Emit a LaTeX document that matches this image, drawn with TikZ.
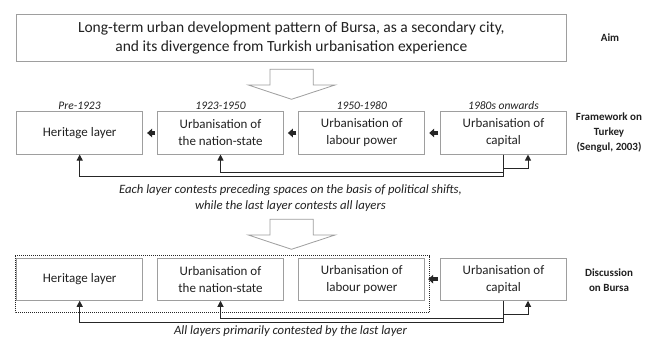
\documentclass[tikz,border=0pt]{standalone}
\usepackage{fontspec}
\setmainfont{Carlito}
\usetikzlibrary{arrows.meta}

\definecolor{boxColor}{rgb}{0.62,0.62,0.62}
\definecolor{textColor}{rgb}{0.13,0.13,0.13}
\definecolor{lineColor}{rgb}{0.15,0.15,0.15}

\begin{document}
\begin{tikzpicture}[x=1pt,y=-1pt,
  layerbox/.style={draw=boxColor,line width=0.8pt,minimum width=126pt,minimum height=42.3pt,
    inner sep=0pt,align=center,text=textColor,font=\fontsize{13}{17}\selectfont},
  aimbox/.style={layerbox,minimum width=549.3pt,minimum height=47pt,font=\fontsize{15.5}{19}\selectfont},
  period/.style={text=textColor,inner sep=0pt,font=\fontsize{11.5}{13}\selectfont\itshape},
  sidelabel/.style={text=textColor,inner sep=0pt,align=center,font=\fontsize{11}{15}\selectfont\bfseries},
  caption/.style={text=textColor,inner sep=0pt,align=center,font=\fontsize{12.7}{16}\selectfont\itshape},
  push/.style={draw=lineColor,line width=3.5pt,-{Triangle[width=8.5pt,length=5pt]},shorten <=2pt,shorten >=4pt},
  contest/.style={draw=lineColor,line width=1pt,-{Triangle[width=6pt,length=6pt]}},
  hollow/.style={draw=boxColor,line width=0.8pt,fill=white,line join=miter}]
\path[use as bounding box,fill=white] (0,0) rectangle (661,340);

% aim
\node[aimbox] (aim) at (291.3,37.5) {Long-term urban development pattern of Bursa, as a secondary city,\\and its divergence from Turkish urbanisation experience};
\node[sidelabel] (aimlab) at (610,37.5) {Aim};

\draw[hollow] (270,69.3) -- (313.3,69.3) -- (313.3,85) -- (335,85) -- (291.5,99.3) -- (248.3,85) -- (270,85) -- cycle;

% framework on Turkey
\node[layerbox] (c1) at (79.7,133) {Heritage layer};
\node[layerbox] (c2) at (220.5,133) {Urbanisation of\\the nation-state};
\node[layerbox] (c3) at (361.8,133) {Urbanisation of\\labour power};
\node[layerbox] (c4) at (503.5,133) {Urbanisation of\\capital};

\node[period] (p1) at (79.5,106) {Pre-1923};
\node[period] (p2) at (220.5,106) {1923-1950};
\node[period] (p3) at (361.8,106) {1950-1980};
\node[period] (p4) at (503.5,106) {1980s onwards};

\node[sidelabel] (framelab) at (609,133) {Framework on\\Turkey\\(Sengul, 2003)};

\draw[push] (c2.west) -- (c1.east);
\draw[push] (c3.west) -- (c2.east);
\draw[push] (c4.west) -- (c3.east);

\draw[contest] (c4.south) -- ++(0,14) -| ([xshift=24.5pt]c4.south);
\draw[contest] (c4.south) -- ++(0,18) -| (c2.south);
\draw[contest] (c4.south) -- ++(0,21.5) -| (c1.south);

\node[caption] (note1) at (290.5,198) {Each layer contests preceding spaces on the basis of political shifts,\\while the last layer contests all layers};

\draw[hollow] (270,219.3) -- (313.3,219.3) -- (313.3,235) -- (335,235) -- (291.5,249.3) -- (248.3,235) -- (270,235) -- cycle;

% discussion on Bursa
\node[layerbox] (d1) at (79.7,279.2) {Heritage layer};
\node[layerbox] (d2) at (220.5,279.2) {Urbanisation of\\the nation-state};
\node[layerbox] (d3) at (361.8,279.2) {Urbanisation of\\labour power};
\node[layerbox] (d4) at (503.5,279.2) {Urbanisation of\\capital};

\draw[lineColor,line width=0.9pt,dash pattern=on 1pt off 1pt] (15,255.7) rectangle (429.3,312.7);

\node[sidelabel] (discusslab) at (609,280) {Discussion\\on Bursa};

\draw[push,shorten >=3pt] (d4.west) -- (d3.east);

\draw[contest] (d4.south) -- ++(0,14) -| ([xshift=24.5pt]d4.south);
\draw[contest] (d4.south) -- ++(0,18) -| (d2.south);
\draw[contest] (d4.south) -- ++(0,21.5) -| (d1.south);

\node[caption] (note2) at (290.5,331.5) {All layers primarily contested by the last layer};
\end{tikzpicture}
\end{document}
